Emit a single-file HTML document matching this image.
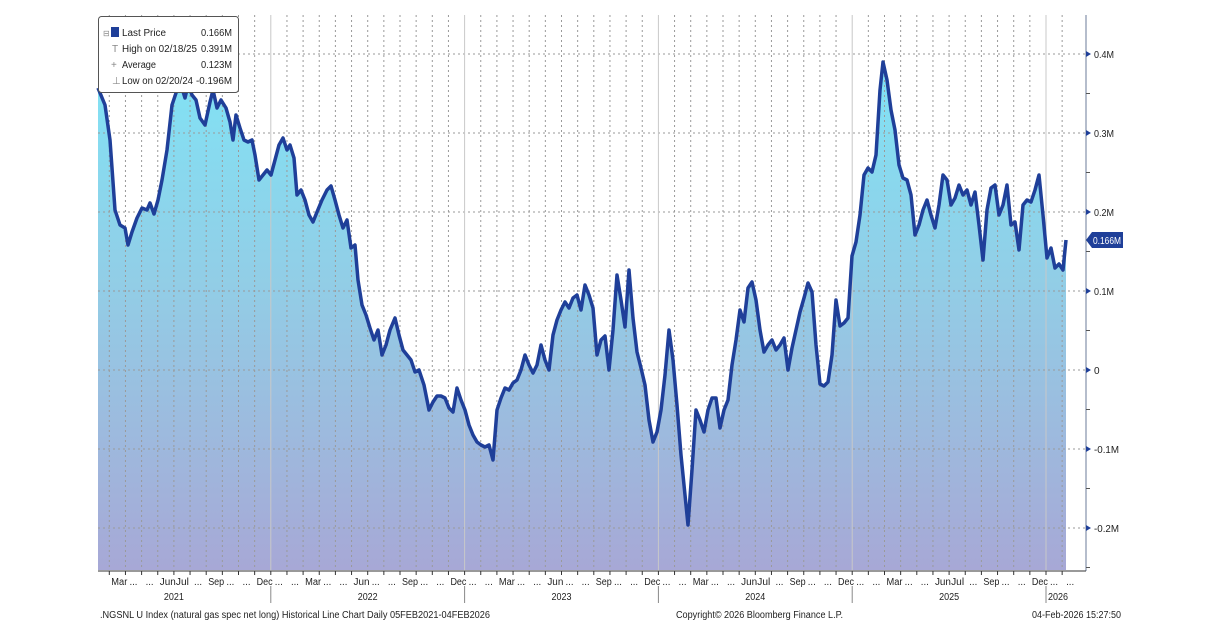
<!DOCTYPE html>
<html><head><meta charset="utf-8"><style>
html,body{margin:0;padding:0;background:#fff;}
svg{display:block;font-family:"Liberation Sans",sans-serif;}
</style></head><body>
<svg width="1220" height="643" viewBox="0 0 1220 643" xmlns="http://www.w3.org/2000/svg">
<defs>
<linearGradient id="g" x1="0" y1="54" x2="0" y2="570" gradientUnits="userSpaceOnUse">
<stop offset="0" stop-color="#80e4f6"/>
<stop offset="0.45" stop-color="#92cde6"/>
<stop offset="1" stop-color="#a7a8d6"/>
</linearGradient>
</defs>
<g id="fill"></g>
<g id="grid" stroke="#9a9a9a" stroke-width="1" stroke-dasharray="2,3"></g>
<g id="line"></g>
<line x1="1086" y1="15" x2="1086" y2="571" stroke="#6b7b99" stroke-width="1"/>
<line x1="98" y1="571" x2="1086" y2="571" stroke="#333" stroke-width="1"/>
<g id="axis" font-size="10" fill="#222"></g>
<g id="xaxis" font-size="10" fill="#222"></g>
<!-- legend -->
<rect x="98.5" y="16.5" width="140" height="76" rx="3" fill="#fff" stroke="#555" stroke-width="1"/>
<g font-size="10" fill="#222" lengthAdjust="spacingAndGlyphs">
<rect x="111" y="27" width="8" height="10" fill="#1f3f99"/>
<text x="103" y="36" font-size="8" fill="#888">⊟</text>
<text x="122" y="36" textLength="44" lengthAdjust="spacingAndGlyphs">Last Price</text><text x="201" y="36" textLength="31" lengthAdjust="spacingAndGlyphs">0.166M</text>
<text x="112" y="52" fill="#888">T</text>
<text x="122" y="52" textLength="75" lengthAdjust="spacingAndGlyphs">High on 02/18/25</text><text x="201" y="52" textLength="31" lengthAdjust="spacingAndGlyphs">0.391M</text>
<text x="111" y="68" fill="#888">+</text>
<text x="122" y="68" textLength="34" lengthAdjust="spacingAndGlyphs">Average</text><text x="201" y="68" textLength="31" lengthAdjust="spacingAndGlyphs">0.123M</text>
<text x="112" y="84" fill="#888">⊥</text>
<text x="122" y="84" textLength="71" lengthAdjust="spacingAndGlyphs">Low on 02/20/24</text><text x="196" y="84" textLength="36" lengthAdjust="spacingAndGlyphs">-0.196M</text>
</g>
<!-- last price label -->
<path d="M1086,240 L1092,232 L1123,232 L1123,248 L1092,248 Z" fill="#1f3f99"/>
<text x="1093" y="244" font-size="10" fill="#fff" textLength="28" lengthAdjust="spacingAndGlyphs">0.166M</text>
<g font-size="10" fill="#222">
<text x="100" y="618" textLength="390" lengthAdjust="spacingAndGlyphs">.NGSNL U Index (natural gas spec net long) Historical Line Chart Daily 05FEB2021-04FEB2026</text>
<text x="676" y="618" textLength="167" lengthAdjust="spacingAndGlyphs">Copyright© 2026 Bloomberg Finance L.P.</text>
<text x="1032" y="618" textLength="89" lengthAdjust="spacingAndGlyphs">04-Feb-2026 15:27:50</text>
</g>
<script>
var pts="98,88 105,105 110,140 115,210 120,225 125,228 128,245 132,232 137,218 142,208 147,210 150,203 154,214 158,200 162,180 167,150 172,105 177,90 182,88 185,98 188,85 192,95 196,100 200,118 205,125 210,102 213,90 217,108 221,100 226,108 230,122 233,140 236,115 240,128 244,140 248,142 252,140 255,155 259,180 263,175 267,170 271,175 275,160 279,145 283,138 287,150 290,145 294,158 297,195 301,190 305,200 309,215 313,222 317,212 322,200 327,190 331,186 335,200 339,215 343,228 347,220 351,248 355,245 358,280 362,305 366,315 370,328 374,340 378,330 382,355 386,345 390,330 395,318 399,335 403,350 407,355 411,360 415,372 419,370 424,385 429,410 433,402 437,396 441,396 445,398 449,408 453,412 457,388 461,400 465,410 469,425 473,435 477,442 481,445 485,447 489,445 493,460 497,410 501,398 505,388 509,390 513,383 517,380 521,370 525,355 529,365 533,373 537,365 541,345 545,360 549,370 553,335 557,320 561,310 565,302 569,308 573,298 577,295 581,310 585,285 589,295 593,308 597,355 601,340 605,336 609,370 613,330 617,275 621,300 625,327 629,270 633,318 637,352 641,368 645,385 649,420 653,442 657,432 661,410 665,375 669,330 673,360 677,405 681,455 685,495 688,525 692,470 696,410 700,420 704,432 708,410 712,398 716,398 720,428 724,410 728,400 732,365 736,340 740,310 744,322 748,288 752,282 756,300 760,330 764,352 768,345 772,340 776,350 780,345 784,338 788,370 792,348 796,330 800,312 804,298 808,283 812,292 816,345 820,384 824,386 828,382 832,355 836,300 840,326 844,323 848,318 852,256 856,242 860,215 864,175 868,168 872,172 876,155 880,90 883,62 887,80 891,110 895,130 899,165 903,178 907,180 911,195 915,235 919,225 923,210 927,200 931,215 935,228 939,205 943,175 947,180 951,205 955,198 959,185 963,195 967,190 971,205 975,192 979,225 983,260 987,210 991,188 995,185 999,215 1003,205 1007,185 1011,225 1015,222 1019,250 1023,205 1027,200 1031,202 1035,190 1039,175 1043,215 1047,258 1051,248 1055,268 1059,264 1063,270 1066,240";
var NS="http://www.w3.org/2000/svg";
function el(t,a,p){var e=document.createElementNS(NS,t);for(var k in a)e.setAttribute(k,a[k]);document.getElementById(p).appendChild(e);return e;}
el("path",{d:"M98,570 L"+pts.replace(/ /g," L")+" L1066,570 Z",fill:"url(#g)"},"fill");
el("polyline",{points:pts,fill:"none",stroke:"#1f3f99","stroke-width":"3.5","stroke-linejoin":"round"},"line");
var labs=["0.4M","0.3M","0.2M","0.1M","0","-0.1M","-0.2M"];
for(var i=0;i<7;i++){var y=54+i*79;
 el("line",{x1:98,y1:y,x2:1086,y2:y},"grid");
 el("path",{d:"M1086,"+(y-3)+" L1091,"+y+" L1086,"+(y+3)+"Z",fill:"#1f3f99"},"axis");
 var a={x:1094,y:y+4};if(labs[i].length>1){a.textLength=labs[i].length*5;a.lengthAdjust="spacingAndGlyphs";}
 var t=el("text",a,"axis");t.textContent=labs[i];
 el("line",{x1:1086,y1:y+39.5,x2:1090,y2:y+39.5,stroke:"#555"},"axis");
}
var yr0=77,pyr=193.8,pm=pyr/12;
var names={2:"Mar",5:"Jun",6:"Jul",8:"Sep",11:"Dec"};
for(var Y=0;Y<6;Y++){for(var m=0;m<12;m++){var x=yr0+Y*pyr+m*pm;
 if(x<99||x>1070)continue;
 if(m==0){el("line",{x1:x,y1:15,x2:x,y2:570,stroke:"#c8c8c8","stroke-dasharray":"none"},"grid");
  el("line",{x1:x,y1:586,x2:x,y2:603,stroke:"#888"},"xaxis");}
 else el("line",{x1:x,y1:15,x2:x,y2:570},"grid");
 el("line",{x1:x,y1:571,x2:x,y2:575,stroke:"#333"},"xaxis");
 var n=names[m]||"...";
 if((Y==1||Y==2)&&m==6)n="...";
 var t;
 if(n=="...")t=el("text",{x:x+4,y:585,textLength:8,lengthAdjust:"spacingAndGlyphs"},"xaxis");
 else t=el("text",{x:x+2,y:585,textLength:n=="Jul"?13:16,lengthAdjust:"spacingAndGlyphs"},"xaxis");
 t.textContent=n;
}
 var cx=yr0+Y*pyr+pyr/2;if(Y==5)cx=1058;
 var t=el("text",{x:cx-10,y:600,textLength:20,lengthAdjust:"spacingAndGlyphs"},"xaxis");t.textContent=2021+Y;
}
</script>
</svg>
</body></html>
